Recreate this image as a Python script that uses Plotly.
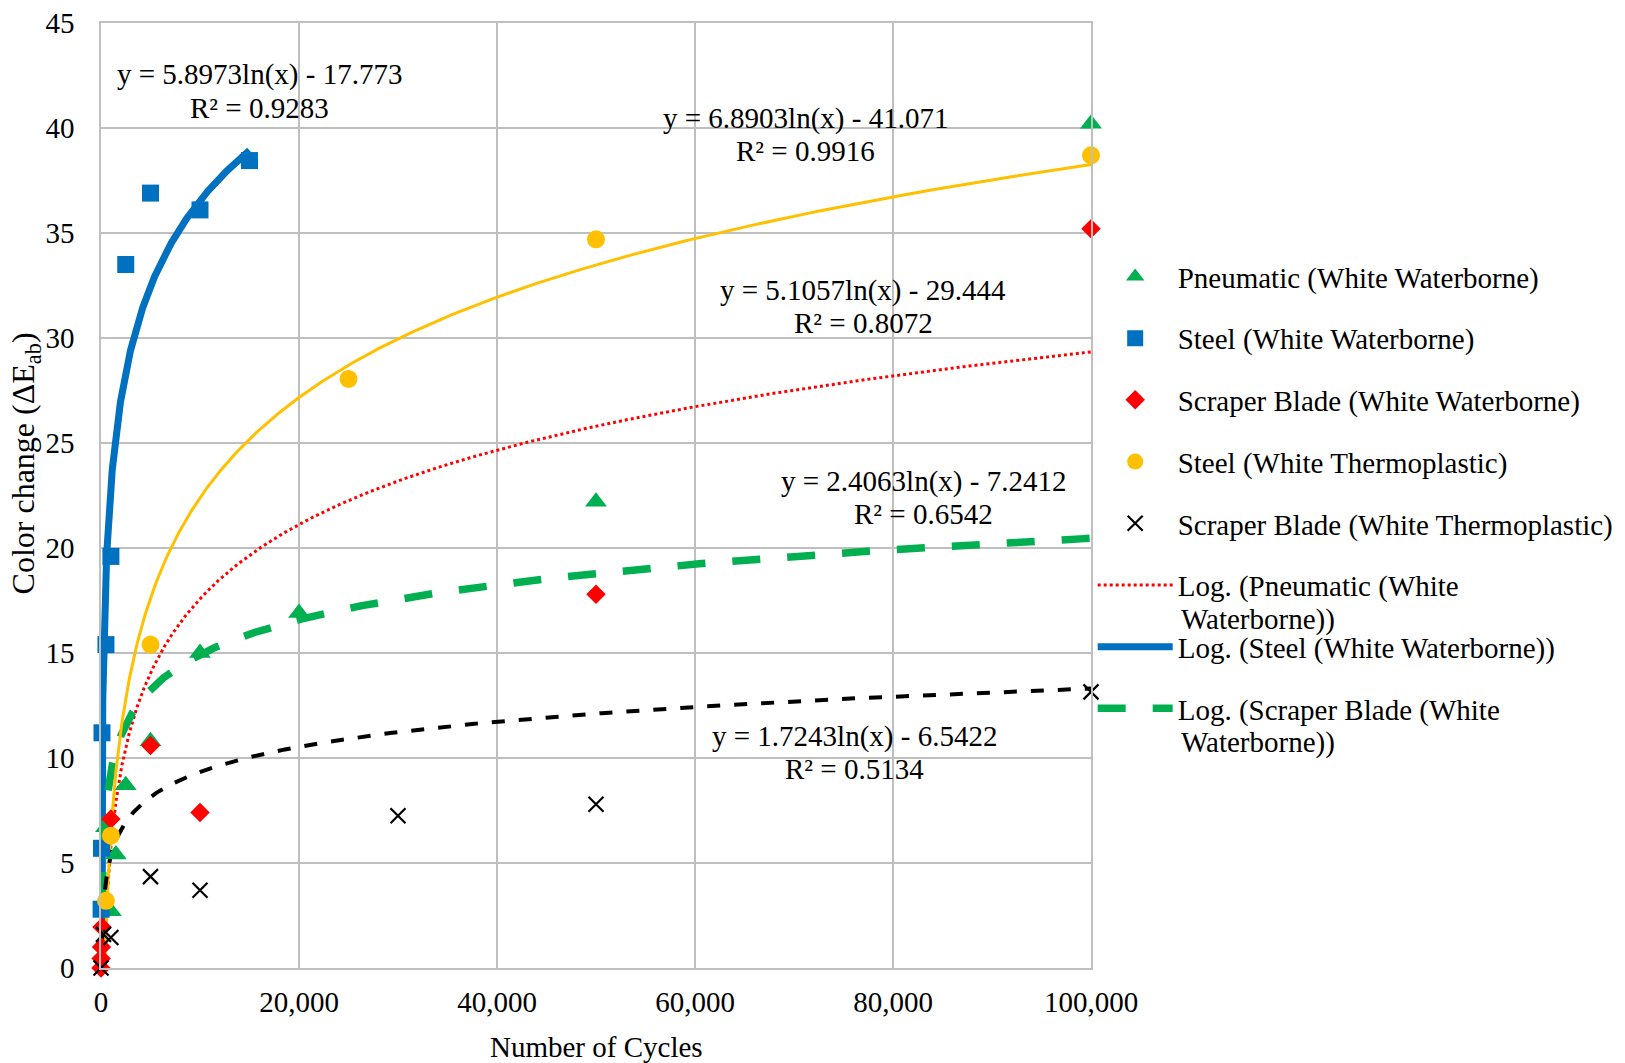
import numpy as np
import plotly.graph_objects as go

# ---------------- data ----------------
pneu_x = [500, 1000, 1500, 2500, 5000, 10000, 20000, 50000, 100000]
pneu_y = [6.7, 2.7, 5.4, 8.7, 10.8, 15.0, 16.9, 22.2, 40.2]

steel_ww_x = [10, 50, 100, 500, 1000, 2500, 5000, 10000, 15000]
steel_ww_y = [2.8, 5.7, 11.2, 15.4, 19.6, 33.5, 36.9, 36.1, 38.45]

scraper_ww_x = [1, 10, 50, 100, 1000, 5000, 10000, 50000, 100000]
scraper_ww_y = [0.0, 0.45, 1.0, 1.95, 7.1, 10.6, 7.4, 17.8, 35.2]

steel_wt_x = [500, 1000, 5000, 25000, 50000, 100000]
steel_wt_y = [3.2, 6.3, 15.4, 28.05, 34.7, 38.7]

scraper_wt_x = [1, 250, 1000, 5000, 10000, 30000, 50000, 100000]
scraper_wt_y = [0.0, 1.6, 1.45, 4.35, 3.7, 7.25, 7.8, 13.15]

series_names = ["Pneumatic (White Waterborne)", "Steel (White Waterborne)",
                "Scraper Blade (White Waterborne)", "Steel (White Thermoplastic)",
                "Scraper Blade (White Thermoplastic)"]

# logarithmic trendlines y = a*ln(x) + b  (as printed on the chart)
trend_names = ["Log. (Pneumatic (White", "Log. (Steel (White Waterborne))",
               "Log. (Scraper Blade (White", "Log. (Steel (White Thermoplastic))",
               "Log. (Scraper Blade (White Thermoplastic))"]
trend_a = [5.1057, 5.8973, 2.4063, 6.8903, 1.7243]
trend_b = [-29.444, -17.773, -7.2412, -41.071, -6.5422]
trend_r2 = ["0.8072", "0.9283", "0.6542", "0.9916", "0.5134"]
trend_xmin = [1, 1, 1, 1, 1]
trend_xmax = [100000, 15000, 100000, 100000, 100000]
trend_eq = ["y = 5.1057ln(x) - 29.444", "y = 5.8973ln(x) - 17.773",
            "y = 2.4063ln(x) - 7.2412", "y = 6.8903ln(x) - 41.071",
            "y = 1.7243ln(x) - 6.5422"]

x_ticks = [0, 20000, 40000, 60000, 80000, 100000]
y_ticks = [0, 5, 10, 15, 20, 25, 30, 35, 40, 45]

x_title = "Number of Cycles"
y_title = "Color change (ΔE<sub>ab</sub>)"

# ---------------- styles ----------------
FONT = "Liberation Serif, Times New Roman, serif"
FS = 29
GRID = "#BFBFBF"

marker_styles = [
    dict(symbol="triangle-up", size=19, color="#00B050"),
    dict(symbol="square", size=17, color="#0070C0"),
    dict(symbol="diamond", size=15, color="#FF0000"),
    dict(symbol="circle", size=18, color="#FFC000"),
    dict(symbol="x-thin", size=15, color="#000000", line=dict(width=2.2, color="#000000")),
]
line_styles = [
    dict(color="#FF0000", width=3, dash="dot"),
    dict(color="#0070C0", width=7, dash="solid"),
    dict(color="#00B050", width=7.5, dash="28px,27px"),
    dict(color="#FFC000", width=3, dash="solid"),
    dict(color="#000000", width=4, dash="13px,14px"),
]
trend_in_legend = [True, True, True, False, False]
# label positions (data coordinates) for equation / R² text
eq_pos = [(77000, 32.24, 30.71), (16050, 42.57, 40.96), (83040, 23.16, 21.63),
          (71150, 40.45, 38.9), (76080, 11.02, 9.49)]

fig = go.Figure()

# trendlines first (drawn beneath markers)
for i in range(5):
    xs = np.unique(np.concatenate([np.geomspace(trend_xmin[i], trend_xmax[i], 600),
                                   np.linspace(trend_xmin[i], trend_xmax[i], 600)]))
    ys = trend_a[i] * np.log(xs) + trend_b[i]
    fig.add_trace(go.Scatter(x=xs, y=ys, mode="lines", name=trend_names[i],
                             line=line_styles[i], showlegend=trend_in_legend[i],
                             legendgroup="t%d" % i, legendrank=1000 + i,
                             hoverinfo="skip"))

series = [(pneu_x, pneu_y), (steel_ww_x, steel_ww_y), (scraper_ww_x, scraper_ww_y),
          (steel_wt_x, steel_wt_y), (scraper_wt_x, scraper_wt_y)]
for i, (sx, sy) in enumerate(series):
    fig.add_trace(go.Scatter(x=sx, y=sy, mode="markers", name=series_names[i],
                             marker=marker_styles[i], cliponaxis=False,
                             legendgroup="s%d" % i, legendrank=i))

annotations = []
for i in range(5):
    px_, y1, y2 = eq_pos[i]
    annotations.append(dict(x=px_, y=y1, xref="x", yref="y", text=trend_eq[i],
                            showarrow=False, xanchor="center", yanchor="middle",
                            font=dict(family=FONT, size=FS, color="black")))
    annotations.append(dict(x=px_, y=y2, xref="x", yref="y", text="R² = " + trend_r2[i],
                            showarrow=False, xanchor="center", yanchor="middle",
                            font=dict(family=FONT, size=FS, color="black")))
# wrapped second lines of the long legend entries
for yy in [0.3688, 0.2384]:
    annotations.append(dict(x=1.0886, y=yy, xref="paper", yref="paper", text="Waterborne))",
                            showarrow=False, xanchor="left", yanchor="middle",
                            font=dict(family=FONT, size=FS, color="black")))
# axis titles
annotations.append(dict(x=0.5, y=-0.0831, xref="paper", yref="paper", text=x_title,
                        showarrow=False, xanchor="center", yanchor="middle",
                        font=dict(family=FONT, size=FS, color="black")))
annotations.append(dict(x=-0.0758, y=0.5339, xref="paper", yref="paper", text=y_title,
                        showarrow=False, xanchor="center", yanchor="middle", textangle=-90,
                        font=dict(family=FONT, size=32, color="black")))

fig.update_layout(
    width=1660, height=1063, autosize=False,
    margin=dict(l=93, r=577, t=15, b=103, autoexpand=False),
    paper_bgcolor="white", plot_bgcolor="white",
    font=dict(family=FONT, size=FS, color="black"),
    showlegend=True,
    legend=dict(x=1.0017, y=0.7586, xanchor="left", yanchor="top",
                font=dict(family=FONT, size=FS, color="black"),
                itemwidth=75, tracegroupgap=21, traceorder="grouped",
                bgcolor="rgba(0,0,0,0)", borderwidth=0),
    annotations=annotations,
    xaxis=dict(range=[0, 100000], tickvals=x_ticks, tickformat=",d",
               showgrid=True, gridcolor=GRID, gridwidth=1.5,
               showline=True, linecolor=GRID, linewidth=1.5, mirror=True,
               zeroline=False, ticks="", ticklabelstandoff=7, automargin=False,
               ticklabeloverflow="allow",
               tickfont=dict(family=FONT, size=FS, color="black")),
    yaxis=dict(range=[0, 45], tickvals=y_ticks,
               showgrid=True, gridcolor=GRID, gridwidth=1.5,
               showline=True, linecolor=GRID, linewidth=1.5, mirror=True,
               zeroline=False, ticks="", ticklabelstandoff=19, automargin=False,
               ticklabeloverflow="allow",
               tickfont=dict(family=FONT, size=FS, color="black")),
)

fig.write_html("out.html")
